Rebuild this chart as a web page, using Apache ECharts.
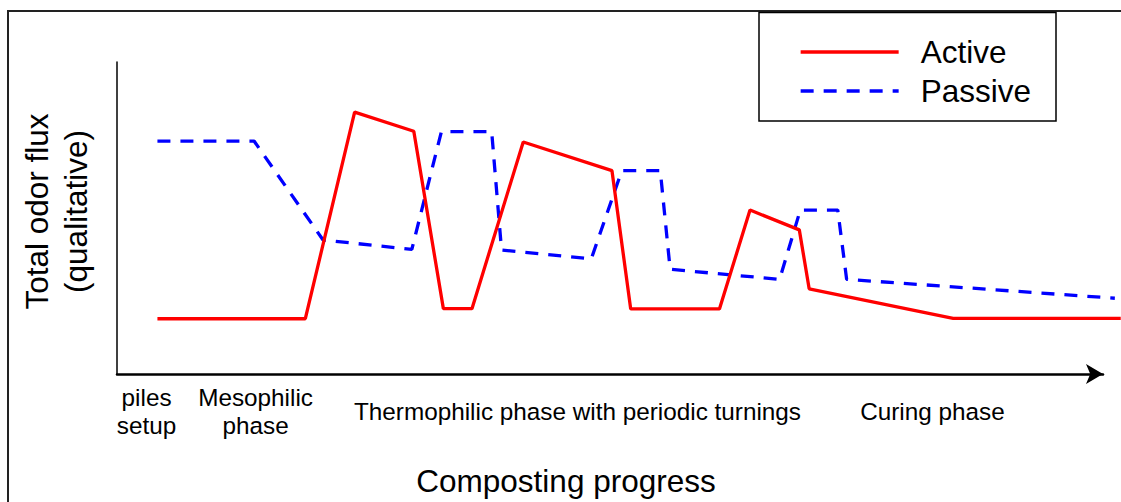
<!DOCTYPE html>
<html>
<head>
<meta charset="utf-8">
<script src="https://cdn.jsdelivr.net/npm/echarts@6/dist/echarts.min.js"></script>
<style>
html,body{margin:0;padding:0;background:#fff;}
#chart{width:1121px;height:502px;}
</style>
</head>
<body>
<div id="chart"></div>
<script>
// Qualitative odor flux vs composting progress (x: 0-100 progress units, y: 0-100 flux units)
const activeX  = [4.1, 19.1, 24.1, 30.1, 33.1, 36.0, 41.2, 50.2, 52.1, 61.1, 64.2, 69.2, 70.2, 84.8, 101.8];
const activeY  = [18.5, 18.5, 84.1, 78.0, 21.7, 21.7, 74.6, 65.5, 21.6, 21.6, 53.0, 46.7, 28.0, 18.6, 18.6];
const passiveX = [4.1, 13.9, 20.9, 29.9, 32.9, 38.0, 39.0, 48.1, 51.2, 55.1, 56.1, 67.2, 69.3, 73.1, 74.0, 101.2];
const passiveY = [74.9, 74.9, 43.5, 40.5, 77.9, 77.9, 40.3, 37.5, 65.5, 65.5, 34.2, 31.0, 53.0, 53.0, 31.0, 25.0];
const phaseValues = [3.0, 14.05, 46.7, 82.7];
const phaseLabels = ['piles\nsetup', 'Mesophilic\nphase', 'Thermophilic phase with periodic turnings', 'Curing phase'];
const seriesNames = ['Active', 'Passive'];

const FONT = '"Liberation Sans", Arial, sans-serif';
const pairs = (xs, ys) => xs.map((x, i) => [x, ys[i]]);

const W = 1121, GL = 117, GR = 18;
// the plotting grid reaches the right edge so lines can run past the arrow tip;
// its x range is stretched so one unit has the same length as on the visible axis
const plotMax = 100 * (W - GL) / (W - GL - GR);

const chart = echarts.init(document.getElementById('chart'), null, {renderer: 'svg'});
chart.setOption({
  animation: false,
  backgroundColor: '#fff',
  textStyle: {fontFamily: FONT},
  grid: [
    {left: GL, right: GR, top: 62, bottom: 125, containLabel: false},
    {left: GL, right: 0, top: 62, bottom: 125, containLabel: false}
  ],
  graphic: [
    {type: 'rect', z: -1, shape: {x: 8, y: 11, width: 1200, height: 600},
     style: {fill: 'none', stroke: '#222', lineWidth: 2}},
    {type: 'rect', z: 0, shape: {x: 759, y: 12.5, width: 297, height: 108.5},
     style: {fill: '#fff', stroke: '#000', lineWidth: 1.5}}
  ],
  legend: {
    orient: 'vertical', left: 799, top: 34, padding: 0,
    itemWidth: 98, itemHeight: 2, itemGap: 3,
    data: seriesNames,
    itemStyle: {opacity: 0},
    lineStyle: {width: 3.3},
    textStyle: {fontFamily: FONT, fontSize: 31.5, color: '#000', lineHeight: 31, padding: [0, 0, 5, 17]},
    z: 5
  },
  xAxis: [
    {
      gridIndex: 0, type: 'value', min: 0, max: 100,
      name: 'Composting progress', nameLocation: 'middle', nameGap: 91,
      nameTextStyle: {fontFamily: FONT, fontSize: 31.5, color: '#000', padding: [0, 88, 0, 0]},
      axisLine: {show: true, onZero: false, symbol: ['none', 'arrow'], symbolSize: [15, 17],
                 lineStyle: {color: '#000', width: 2.5}},
      axisTick: {show: false},
      splitLine: {show: false},
      axisLabel: {
        customValues: phaseValues,
        formatter: function (v) {
          const i = phaseValues.findIndex(p => Math.abs(p - v) < 1e-6);
          return i >= 0 ? phaseLabels[i] : '';
        },
        fontFamily: FONT, fontSize: 24.3, lineHeight: 28, color: '#000',
        margin: 37, verticalAlign: 'middle', align: 'center',
        showMinLabel: true, showMaxLabel: true, hideOverlap: false
      }
    },
    {
      gridIndex: 1, type: 'value', min: 0, max: plotMax, show: false,
      splitLine: {show: false}
    }
  ],
  yAxis: [
    {
      gridIndex: 0, type: 'value', min: 0, max: 100,
      name: 'Total odor flux\n(qualitative)', nameLocation: 'middle', nameRotate: 90, nameGap: 22,
      nameTextStyle: {fontFamily: FONT, fontSize: 31.5, color: '#000', lineHeight: 39, padding: [0, 0, 0, 13]},
      axisLine: {show: true, onZero: false, lineStyle: {color: '#000', width: 1.5}},
      axisTick: {show: false},
      axisLabel: {show: false},
      splitLine: {show: false}
    },
    {
      gridIndex: 1, type: 'value', min: 0, max: 100, show: false,
      splitLine: {show: false}
    }
  ],
  series: [
    {name: seriesNames[0], type: 'line', xAxisIndex: 1, yAxisIndex: 1, symbol: 'none',
     data: pairs(activeX, activeY),
     lineStyle: {color: '#ff0000', width: 3.3, type: 'solid'},
     itemStyle: {color: '#ff0000'}, z: 3},
    {name: seriesNames[1], type: 'line', xAxisIndex: 1, yAxisIndex: 1, symbol: 'none',
     data: pairs(passiveX, passiveY),
     lineStyle: {color: '#0000ff', width: 3.3, type: [13, 10]},
     itemStyle: {color: '#0000ff'}, z: 2}
  ]
});
</script>
</body>
</html>
